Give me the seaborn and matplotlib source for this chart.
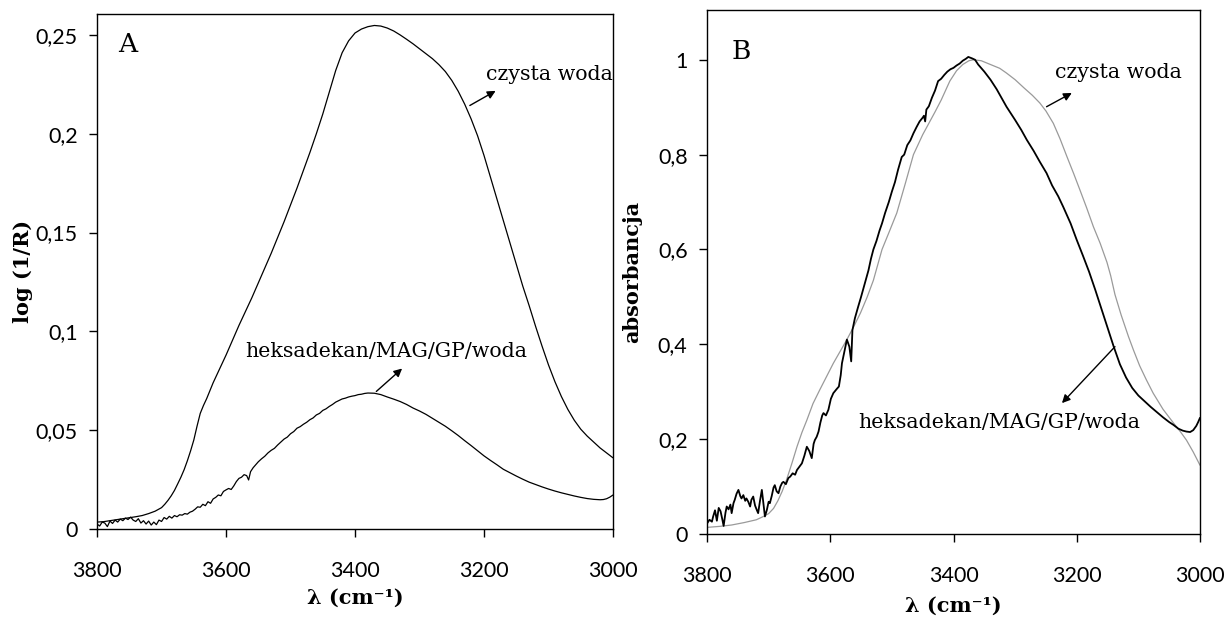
import matplotlib
matplotlib.use("Agg")
import matplotlib.pyplot as plt
import seaborn as sns
import pandas as pd

# ---------------- data ----------------
# Panel A: pure water
water_A_x = [3800, 3790, 3780, 3770, 3760, 3750, 3740, 3730, 3720, 3710, 3700, 3695, 3690, 3685, 3680,
             3675, 3670, 3665, 3660, 3655, 3650, 3645, 3640, 3635, 3630, 3620, 3610, 3600, 3590, 3580,
             3570, 3560, 3550, 3540, 3530, 3520, 3510, 3500, 3490, 3480, 3470, 3460, 3450, 3440, 3430,
             3420, 3410, 3400, 3390, 3380, 3370, 3360, 3350, 3340, 3330, 3320, 3310, 3300, 3290, 3280,
             3270, 3260, 3250, 3240, 3230, 3220, 3210, 3200, 3190, 3180, 3170, 3160, 3150, 3140, 3130,
             3120, 3110, 3100, 3090, 3080, 3070, 3060, 3050, 3040, 3030, 3020, 3010, 3000]
water_A_y = [0.0035, 0.0037, 0.0042, 0.0047, 0.0052, 0.0057, 0.0062, 0.0068, 0.0078, 0.0090, 0.0108,
             0.0125, 0.0145, 0.0168, 0.0195, 0.0228, 0.0262, 0.0300, 0.0345, 0.0395, 0.0450, 0.0520,
             0.0585, 0.0625, 0.0660, 0.0740, 0.0810, 0.0880, 0.0955, 0.1030, 0.1100, 0.1170, 0.1245,
             0.1320, 0.1395, 0.1475, 0.1555, 0.1640, 0.1725, 0.1815, 0.1905, 0.2000, 0.2100, 0.2210,
             0.2320, 0.2410, 0.2470, 0.2510, 0.2530, 0.2542, 0.2548, 0.2545, 0.2535, 0.2520, 0.2500,
             0.2478, 0.2455, 0.2430, 0.2405, 0.2380, 0.2350, 0.2315, 0.2270, 0.2215, 0.2150, 0.2075,
             0.1990, 0.1890, 0.1780, 0.1670, 0.1560, 0.1450, 0.1340, 0.1230, 0.1130, 0.1025, 0.0925,
             0.0830, 0.0745, 0.0670, 0.0605, 0.0550, 0.0505, 0.0470, 0.0440, 0.0410, 0.0385, 0.0360]

# Panel A: hexadecane/MAG/GP/water emulsion
emul_A_x = [3800, 3796, 3792, 3788, 3784, 3780, 3776, 3772, 3768, 3764, 3760, 3756, 3752, 3748, 3744,
            3740, 3736, 3732, 3728, 3724, 3720, 3716, 3712, 3708, 3704, 3700, 3696, 3692, 3688, 3684,
            3680, 3676, 3672, 3668, 3664, 3660, 3656, 3652, 3648, 3644, 3640, 3636, 3632, 3628, 3624,
            3620, 3616, 3612, 3608, 3604, 3600, 3596, 3592, 3588, 3584, 3580, 3576, 3572, 3568, 3565,
            3562, 3558, 3554, 3550, 3545, 3540, 3535, 3530, 3525, 3520, 3515, 3510, 3505, 3500, 3495,
            3490, 3485, 3480, 3475, 3470, 3465, 3460, 3455, 3450, 3445, 3440, 3435, 3430, 3425, 3420,
            3415, 3410, 3405, 3400, 3395, 3390, 3385, 3380, 3370, 3360, 3350, 3340, 3330, 3320, 3310,
            3300, 3290, 3280, 3270, 3260, 3250, 3240, 3230, 3220, 3210, 3200, 3190, 3180, 3170, 3160,
            3150, 3140, 3130, 3120, 3110, 3100, 3090, 3080, 3070, 3060, 3050, 3040, 3030, 3020, 3015,
            3010, 3005, 3000]
emul_A_y = [0.0025, 0.0015, 0.0035, 0.0030, 0.0012, 0.0040, 0.0028, 0.0045, 0.0035, 0.0050, 0.0042,
            0.0055, 0.0048, 0.0060, 0.0045, 0.0038, 0.0052, 0.0030, 0.0042, 0.0025, 0.0040, 0.0020,
            0.0035, 0.0022, 0.0045, 0.0038, 0.0058, 0.0050, 0.0064, 0.0055, 0.0068, 0.0062, 0.0072,
            0.0070, 0.0078, 0.0075, 0.0085, 0.0090, 0.0100, 0.0112, 0.0110, 0.0125, 0.0118, 0.0138,
            0.0130, 0.0152, 0.0160, 0.0172, 0.0168, 0.0190, 0.0198, 0.0205, 0.0200, 0.0218, 0.0240,
            0.0256, 0.0262, 0.0275, 0.0270, 0.0248, 0.0290, 0.0310, 0.0325, 0.0340, 0.0355, 0.0368,
            0.0385, 0.0398, 0.0408, 0.0425, 0.0440, 0.0455, 0.0465, 0.0482, 0.0493, 0.0510, 0.0518,
            0.0530, 0.0540, 0.0553, 0.0562, 0.0577, 0.0585, 0.0600, 0.0608, 0.0620, 0.0630, 0.0642,
            0.0650, 0.0658, 0.0662, 0.0668, 0.0672, 0.0675, 0.0680, 0.0682, 0.0686, 0.0688, 0.0687,
            0.0680, 0.0668, 0.0657, 0.0645, 0.0630, 0.0612, 0.0597, 0.0580, 0.0560, 0.0540, 0.0520,
            0.0497, 0.0473, 0.0447, 0.0422, 0.0396, 0.0370, 0.0347, 0.0325, 0.0302, 0.0285, 0.0268,
            0.0252, 0.0237, 0.0225, 0.0213, 0.0202, 0.0192, 0.0183, 0.0175, 0.0167, 0.0160, 0.0154,
            0.0150, 0.0148, 0.0149, 0.0153, 0.0161, 0.0172]

# Panel B: pure water (normalised absorbance)
water_B_x = [3800, 3780, 3760, 3740, 3720, 3710, 3700, 3692, 3685, 3678, 3671, 3662, 3654, 3646, 3638,
             3628, 3617, 3606, 3595, 3584, 3573, 3562, 3551, 3540, 3530, 3516, 3505, 3492, 3478, 3465,
             3450, 3440, 3430, 3420, 3406, 3395, 3385, 3375, 3368, 3355, 3340, 3325, 3314, 3300, 3285,
             3272, 3260, 3250, 3238, 3227, 3216, 3205, 3195, 3184, 3173, 3162, 3151, 3145, 3138, 3128,
             3116, 3108, 3098, 3087, 3076, 3060, 3043, 3032, 3022, 3011, 3000]
water_B_y = [0.014, 0.016, 0.019, 0.024, 0.030, 0.036, 0.043, 0.054, 0.070, 0.090, 0.114, 0.150, 0.184,
             0.214, 0.240, 0.275, 0.304, 0.332, 0.360, 0.385, 0.410, 0.437, 0.466, 0.500, 0.535, 0.600,
             0.635, 0.677, 0.740, 0.800, 0.842, 0.866, 0.890, 0.915, 0.955, 0.977, 0.990, 0.998, 1.000,
             0.998, 0.990, 0.982, 0.972, 0.958, 0.940, 0.925, 0.909, 0.892, 0.866, 0.833, 0.796, 0.760,
             0.726, 0.688, 0.648, 0.613, 0.573, 0.545, 0.505, 0.462, 0.416, 0.388, 0.355, 0.325, 0.297,
             0.263, 0.234, 0.216, 0.198, 0.173, 0.145]

# Panel B: emulsion (normalised absorbance)
emul_B_x = [3800, 3796, 3792, 3790, 3787, 3784, 3781, 3778, 3775, 3773, 3770, 3768, 3765, 3762, 3760,
            3757, 3755, 3752, 3749, 3746, 3744, 3741, 3738, 3736, 3733, 3730, 3728, 3725, 3722, 3719,
            3717, 3714, 3711, 3708, 3706, 3703, 3700, 3698, 3695, 3692, 3690, 3687, 3684, 3681, 3678,
            3676, 3672, 3668, 3665, 3661, 3657, 3654, 3650, 3646, 3642, 3638, 3634, 3630, 3627, 3625,
            3622, 3619, 3616, 3613, 3611, 3607, 3603, 3599, 3595, 3590, 3586, 3583, 3581, 3577, 3573,
            3569, 3566, 3564, 3560, 3555, 3550, 3544, 3538, 3534, 3530, 3525, 3520, 3516, 3511, 3505,
            3500, 3495, 3490, 3484, 3480, 3475, 3470, 3465, 3460, 3455, 3450, 3448, 3446, 3444, 3440,
            3435, 3430, 3425, 3420, 3415, 3410, 3405, 3400, 3395, 3390, 3385, 3380, 3376, 3370, 3365,
            3360, 3350, 3340, 3330, 3320, 3314, 3300, 3290, 3281, 3270, 3260, 3249, 3240, 3230, 3222,
            3210, 3200, 3190, 3180, 3170, 3160, 3150, 3140, 3130, 3120, 3110, 3100, 3090, 3080, 3070,
            3060, 3050, 3043, 3035, 3028, 3022, 3016, 3011, 3006, 3003, 3000]
emul_B_y = [0.022, 0.030, 0.026, 0.037, 0.050, 0.028, 0.055, 0.048, 0.030, 0.017, 0.045, 0.058, 0.052,
            0.062, 0.044, 0.065, 0.072, 0.085, 0.093, 0.080, 0.075, 0.082, 0.070, 0.075, 0.068, 0.058,
            0.072, 0.079, 0.060, 0.050, 0.044, 0.070, 0.093, 0.060, 0.037, 0.050, 0.068, 0.065, 0.080,
            0.098, 0.103, 0.090, 0.086, 0.100, 0.108, 0.110, 0.105, 0.118, 0.121, 0.128, 0.125, 0.135,
            0.142, 0.149, 0.165, 0.184, 0.175, 0.160, 0.190, 0.198, 0.205, 0.216, 0.235, 0.250, 0.255,
            0.250, 0.262, 0.285, 0.297, 0.305, 0.311, 0.335, 0.360, 0.385, 0.410, 0.395, 0.364, 0.430,
            0.455, 0.478, 0.500, 0.528, 0.556, 0.580, 0.600, 0.618, 0.640, 0.655, 0.677, 0.700, 0.722,
            0.742, 0.768, 0.795, 0.800, 0.820, 0.830, 0.845, 0.858, 0.870, 0.878, 0.882, 0.870, 0.895,
            0.902, 0.920, 0.935, 0.955, 0.960, 0.968, 0.975, 0.980, 0.983, 0.988, 0.992, 0.998, 1.002,
            1.006, 1.003, 1.000, 0.990, 0.975, 0.958, 0.938, 0.915, 0.901, 0.873, 0.852, 0.831, 0.808,
            0.785, 0.761, 0.735, 0.712, 0.690, 0.655, 0.620, 0.587, 0.553, 0.515, 0.475, 0.435, 0.395,
            0.358, 0.330, 0.308, 0.292, 0.280, 0.268, 0.257, 0.246, 0.236, 0.230, 0.222, 0.218, 0.216,
            0.215, 0.219, 0.228, 0.236, 0.245]

x_ticks = [3800, 3600, 3400, 3200, 3000]
x_tick_labels = ["3800", "3600", "3400", "3200", "3000"]
yA_ticks = [0, 0.05, 0.1, 0.15, 0.2, 0.25]
yA_tick_labels = ["0", "0,05", "0,1", "0,15", "0,2", "0,25"]
yB_ticks = [0, 0.2, 0.4, 0.6, 0.8, 1.0]
yB_tick_labels = ["0", "0,2", "0,4", "0,6", "0,8", "1"]

label_water = "czysta woda"
label_emul = "heksadekan/MAG/GP/woda"
x_label = "λ (cm⁻¹)"
yA_label = "log (1/R)"
yB_label = "absorbancja"

# ---------------- style ----------------
sns.set_theme(style="ticks")
SERIF = ["DejaVu Serif", "DejaVu Sans"]
TICKFONT = ["Lato", "DejaVu Sans"]
plt.rcParams["font.family"] = SERIF
plt.rcParams["text.color"] = "black"
plt.rcParams["axes.labelcolor"] = "black"
plt.rcParams["axes.edgecolor"] = "black"
plt.rcParams["axes.linewidth"] = 1.0
plt.rcParams["xtick.color"] = "black"
plt.rcParams["ytick.color"] = "black"
plt.rcParams["xtick.labelcolor"] = "black"
plt.rcParams["ytick.labelcolor"] = "black"

fig = plt.figure(figsize=(12.27, 6.2), dpi=100)
axA = fig.add_axes([0.0791, 0.1468, 0.4205, 0.8306])
axB = fig.add_axes([0.5762, 0.1387, 0.4018, 0.8452])

dfWA = pd.DataFrame({"x": water_A_x, "y": water_A_y})
dfEA = pd.DataFrame({"x": emul_A_x, "y": emul_A_y})
dfWB = pd.DataFrame({"x": water_B_x, "y": water_B_y})
dfEB = pd.DataFrame({"x": emul_B_x, "y": emul_B_y})

sns.lineplot(data=dfWA, x="x", y="y", ax=axA, color="black", lw=0.9, estimator=None)
sns.lineplot(data=dfEA, x="x", y="y", ax=axA, color="black", lw=0.9, estimator=None)
sns.lineplot(data=dfWB, x="x", y="y", ax=axB, color="#9a9a9a", lw=0.9, estimator=None)
sns.lineplot(data=dfEB, x="x", y="y", ax=axB, color="black", lw=1.3, estimator=None)

for ax in (axA, axB):
    ax.set_xlim(3800, 3000)
    ax.set_xticks(x_ticks)
    ax.set_xticklabels(x_tick_labels, family=TICKFONT, fontsize=15.5)
    ax.tick_params(axis="both", direction="out", length=6, width=1, pad=8, colors="black")
    ax.tick_params(axis="x", pad=17)
    for s in ax.spines.values():
        s.set_visible(True)
        s.set_color("black")
    ax.set_xlabel(x_label, fontsize=15, fontweight="bold", labelpad=5, color="black")

axA.set_ylim(0, 0.2606)
axA.set_yticks(yA_ticks)
axA.set_yticklabels(yA_tick_labels, family=TICKFONT, fontsize=15.5)
axA.set_ylabel(yA_label, fontsize=15, fontweight="bold", labelpad=2, color="black")

axB.set_ylim(0, 1.105)
axB.set_yticks(yB_ticks)
axB.set_yticklabels(yB_tick_labels, family=TICKFONT, fontsize=15.5)
axB.set_ylabel(yB_label, fontsize=15, fontweight="bold", labelpad=11, color="black")
axB.xaxis.labelpad = 7

ann_font = 14.8
arrow = dict(arrowstyle="-|>", color="black", lw=1.0, mutation_scale=12, shrinkA=0, shrinkB=0)

# Panel A annotations
axA.text(3767, 0.245, "A", fontsize=19, va="center", ha="left", color="black")
axA.text(3197, 0.230, label_water, fontsize=ann_font, va="center", ha="left", color="black")
axA.annotate("", xy=(3182, 0.2217), xytext=(3222, 0.2143), arrowprops=arrow)
axA.text(3570, 0.090, label_emul, fontsize=ann_font, va="center", ha="left", color="black")
axA.annotate("", xy=(3327, 0.0812), xytext=(3367, 0.0696), arrowprops=arrow)

# Panel B annotations
axB.text(3760, 1.018, "B", fontsize=19, va="center", ha="left", color="black")
axB.text(3235, 0.973, label_water, fontsize=ann_font, va="center", ha="left", color="black")
axB.annotate("", xy=(3208, 0.930), xytext=(3249, 0.901), arrowprops=arrow)
axB.text(3555, 0.236, label_emul, fontsize=ann_font, va="center", ha="left", color="black")
axB.annotate("", xy=(3224, 0.276), xytext=(3138, 0.395), arrowprops=arrow)

fig.savefig("out.png", dpi=100)
